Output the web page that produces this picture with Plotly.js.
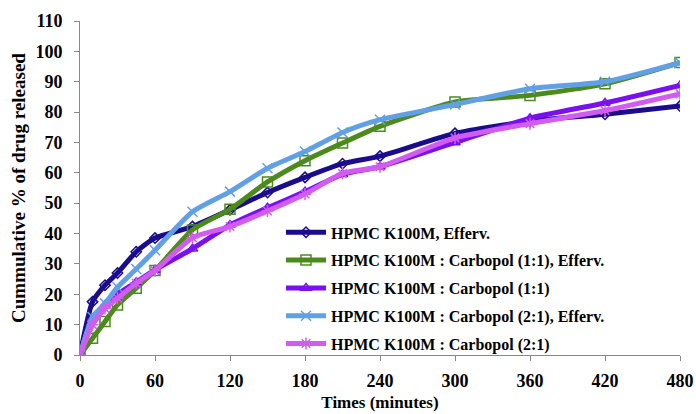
<!DOCTYPE html>
<html><head><meta charset="utf-8">
<script src="https://cdn.plot.ly/plotly-3.0.1.min.js"></script>
<style>html,body{margin:0;padding:0;background:#fff}#chart{width:696px;height:414px}</style>
</head><body><div id="chart"></div>
<script>
const times = [0, 10, 20, 30, 45, 60, 90, 120, 150, 180, 210, 240, 300, 360, 420, 480];
const seriesNames = [
  "HPMC K100M, Efferv.",
  "HPMC K100M : Carbopol (1:1), Efferv.",
  "HPMC K100M : Carbopol (1:1)",
  "HPMC K100M : Carbopol (2:1), Efferv.",
  "HPMC K100M : Carbopol (2:1)"
];
const effervK100M   = [0, 17.5, 23, 27, 34, 38.5, 42.3, 47.8, 53.5, 58.5, 63, 65.5, 73, 77, 79.3, 82];
const carb11Efferv  = [0, 5.5, 11, 16.5, 22, 27.8, 41.2, 48, 57, 64, 69.8, 75.3, 83.3, 85.5, 89.3, 96.3];
const carb11        = [0, 12, 16.5, 20, 24, 28, 35, 42.8, 48.5, 53.8, 59.5, 62, 70, 78, 83, 88.8];
const carb21Efferv  = [0, 12.5, 17, 22.3, 28.3, 34.5, 47.2, 53.8, 61.5, 67, 73.3, 77.5, 82.5, 87.7, 90, 96.3];
const carb21        = [0, 10, 15.3, 18.7, 23.6, 27.8, 38.6, 42.3, 47.4, 53, 59.8, 62, 71.5, 76.2, 80.5, 86];
const xTicks = [0, 60, 120, 180, 240, 300, 360, 420, 480];
const yTicks = [0, 10, 20, 30, 40, 50, 60, 70, 80, 90, 100, 110];

const values = [effervK100M, carb11Efferv, carb11, carb21Efferv, carb21];
const colors = ["#1B0C8E", "#4C8A1C", "#7A10F2", "#62A0E6", "#D35CF0"];
const symbols = ["diamond-open", "square-open", "triangle-up-open", "x-thin-open", "asterisk-open"];
const sizes = [8, 10, 9, 10, 10];

const traces = values.map((v, i) => ({
  x: times, y: v, name: seriesNames[i], type: "scatter", mode: "lines+markers",
  legendgroup: "g" + i,
  line: {color: colors[i], width: 5, shape: "spline", smoothing: 0.6},
  marker: {symbol: symbols[i], size: sizes[i], color: colors[i], line: {color: colors[i], width: 1.5}}
}));

const font = {family: "Liberation Serif, Times New Roman, serif", color: "#000", weight: "bold"};
const layout = {
  width: 696, height: 414,
  margin: {l: 80, r: 16, t: 21, b: 59},
  paper_bgcolor: "#fff", plot_bgcolor: "#fff",
  showlegend: true,
  legend: {x: 0.335, y: 0.418, xanchor: "left", yanchor: "top", bgcolor: "rgba(0,0,0,0)",
    font: Object.assign({}, font, {size: 16}), tracegroupgap: 4, itemwidth: 40},
  xaxis: {range: [0, 480], tickvals: xTicks, ticktext: xTicks.map(String), showgrid: false, zeroline: false,
    showline: true, linecolor: "#888", linewidth: 1, ticks: "outside", ticklen: 5, tickcolor: "#888",
    ticklabelstandoff: 4,
    tickfont: Object.assign({}, font, {size: 18}),
    title: {text: "Times (minutes)", font: Object.assign({}, font, {size: 17}), standoff: 6}},
  yaxis: {range: [0, 110], tickvals: yTicks, ticktext: yTicks.map(String), showgrid: false, zeroline: false,
    showline: true, linecolor: "#888", linewidth: 1, ticks: "outside", ticklen: 5, tickcolor: "#888",
    ticklabelstandoff: 8,
    tickfont: Object.assign({}, font, {size: 18}),
    title: {text: "Cummulative % of drug released", font: Object.assign({}, font, {size: 19}), standoff: 4}}
};
Plotly.newPlot("chart", traces, layout, {displayModeBar: false, staticPlot: true});
</script></body></html>
